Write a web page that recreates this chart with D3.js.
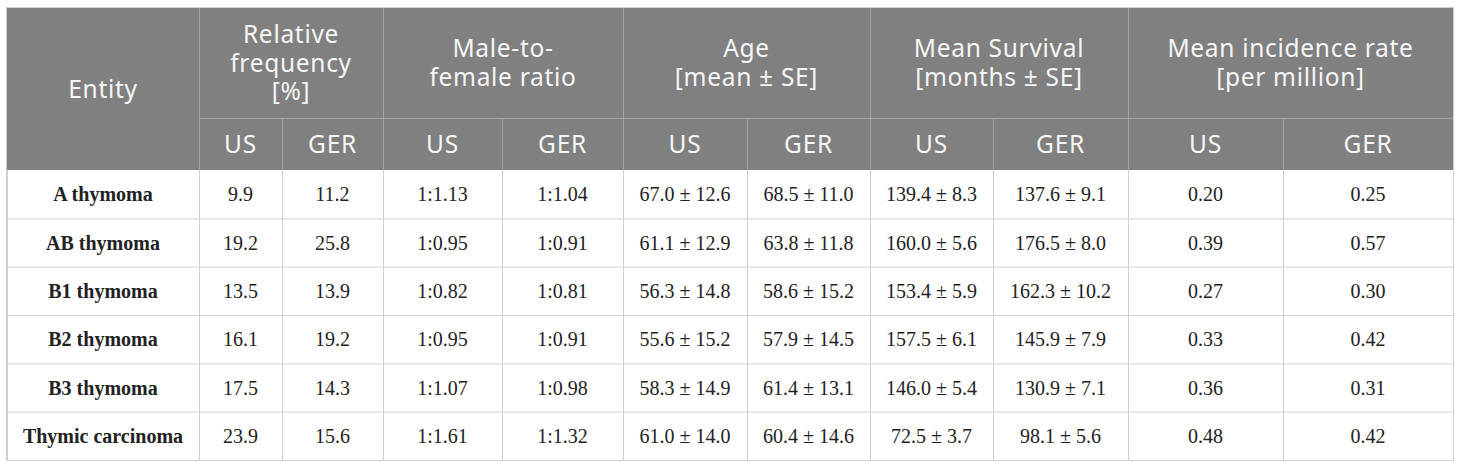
<!DOCTYPE html>
<html>
<head>
<meta charset="utf-8">
<script src="https://cdn.jsdelivr.net/npm/d3@7"></script>
<style>
  body { margin: 0; background: #fff; }
  .head { font-family: "Noto Sans", "Open Sans", sans-serif; fill: #f6f6f6; font-size: 24.5px; letter-spacing: 0.7px; }
  .cell { font-family: "Liberation Serif", "Times New Roman", serif; fill: #222; font-size: 20px; }
  .entity { font-weight: bold; }
</style>
</head>
<body>
<script>
// table values
var entities = ['A thymoma', 'AB thymoma', 'B1 thymoma', 'B2 thymoma', 'B3 thymoma', 'Thymic carcinoma'];
var freqUS   = ['9.9', '19.2', '13.5', '16.1', '17.5', '23.9'];
var freqGER  = ['11.2', '25.8', '13.9', '19.2', '14.3', '15.6'];
var ratioUS  = ['1:1.13', '1:0.95', '1:0.82', '1:0.95', '1:1.07', '1:1.61'];
var ratioGER = ['1:1.04', '1:0.91', '1:0.81', '1:0.91', '1:0.98', '1:1.32'];
var ageUS    = ['67.0 ± 12.6', '61.1 ± 12.9', '56.3 ± 14.8', '55.6 ± 15.2', '58.3 ± 14.9', '61.0 ± 14.0'];
var ageGER   = ['68.5 ± 11.0', '63.8 ± 11.8', '58.6 ± 15.2', '57.9 ± 14.5', '61.4 ± 13.1', '60.4 ± 14.6'];
var survUS   = ['139.4 ± 8.3', '160.0 ± 5.6', '153.4 ± 5.9', '157.5 ± 6.1', '146.0 ± 5.4', '72.5 ± 3.7'];
var survGER  = ['137.6 ± 9.1', '176.5 ± 8.0', '162.3 ± 10.2', '145.9 ± 7.9', '130.9 ± 7.1', '98.1 ± 5.6'];
var incUS    = ['0.20', '0.39', '0.27', '0.33', '0.36', '0.48'];
var incGER   = ['0.25', '0.57', '0.30', '0.42', '0.31', '0.42'];

var groups   = [['Relative', 'frequency', '[%]'], ['Male-to-', 'female ratio'], ['Age', '[mean ± SE]'],
                ['Mean Survival', '[months ± SE]'], ['Mean incidence rate', '[per million]']];
var subHeads = ['US', 'GER'];

var columns = [freqUS, freqGER, ratioUS, ratioGER, ageUS, ageGER, survUS, survGER, incUS, incGER];

///////////////////////////////////////////////////////////////////////////////
// layout
var W = 1460, H = 468;
var edges = [7, 199, 282, 383, 502, 623, 747, 870, 993, 1128, 1283, 1453];
var top0 = 8, groupBottom = 118, headBottom = 170, bottom = 460;

var svg = d3.select('body').append('svg')
            .attr('width', W)
            .attr('height', H);

var y = d3.scaleBand()
          .domain(entities)
          .range([headBottom, bottom]);

function mid(i){ return (edges[i] + edges[i + 1]) / 2; }

// header background
svg.append('rect')
   .attr('x', edges[0]).attr('y', top0)
   .attr('width', edges[11] - edges[0]).attr('height', headBottom - top0)
   .attr('fill', '#808080');

// header lines
var hl = svg.append('g').attr('stroke', '#a3a3a3').attr('stroke-width', 1);
hl.append('line').attr('x1', edges[1]).attr('x2', edges[11])
  .attr('y1', groupBottom + 0.5).attr('y2', groupBottom + 0.5);
edges.slice(1, 11).forEach(function(x, i){
  var odd = (i % 2 === 1);           // US|GER divider inside a group
  hl.append('line')
    .attr('x1', x + 0.5).attr('x2', x + 0.5)
    .attr('y1', odd ? groupBottom : top0).attr('y2', headBottom);
});

// header text
svg.append('text').attr('class', 'head')
   .attr('x', mid(0)).attr('y', (top0 + headBottom) / 2)
   .attr('text-anchor', 'middle').attr('dy', '0.35em')
   .text('Entity');

var lh = 28.5;
groups.forEach(function(lines, g){
  var cx = (edges[1 + 2 * g] + edges[3 + 2 * g]) / 2;
  var cy = (top0 + groupBottom) / 2 - (lines.length - 1) * lh / 2;
  lines.forEach(function(s, k){
    svg.append('text').attr('class', 'head').attr('text-anchor', 'middle')
       .attr('x', cx).attr('y', cy + k * lh).attr('dy', '0.35em').text(s);
  });
});

d3.range(10).forEach(function(c){
  svg.append('text').attr('class', 'head')
     .attr('x', mid(c + 1)).attr('y', (groupBottom + headBottom) / 2)
     .attr('text-anchor', 'middle').attr('dy', '0.35em')
     .text(subHeads[c % 2]);
});

// body grid
var grid = svg.append('g').attr('stroke', '#cfcfcf').attr('stroke-width', 1).attr('fill', 'none');
entities.forEach(function(e){
  grid.append('line').attr('x1', edges[0]).attr('x2', edges[11])
      .attr('y1', y(e) + y.bandwidth() + 0.5).attr('y2', y(e) + y.bandwidth() + 0.5);
});
edges.forEach(function(x){
  grid.append('line').attr('x1', x + 0.5).attr('x2', x + 0.5)
      .attr('y1', headBottom).attr('y2', bottom);
});
grid.append('rect').attr('x', edges[0] - 0.5).attr('y', top0 - 0.5)
    .attr('width', edges[11] - edges[0] + 1).attr('height', bottom - top0 + 1);

// body text
var rows = svg.selectAll('g.row').data(entities).enter().append('g')
              .attr('class', 'row')
              .attr('transform', function(d){ return 'translate(0,' + (y(d) + y.bandwidth() / 2) + ')'; });

rows.append('text').attr('class', 'cell entity')
    .attr('x', mid(0)).attr('dy', '0.35em').attr('text-anchor', 'middle')
    .text(function(d){ return d; });

columns.forEach(function(col, c){
  rows.append('text').attr('class', 'cell')
      .attr('x', mid(c + 1)).attr('dy', '0.35em').attr('text-anchor', 'middle')
      .text(function(d, i){ return col[i]; });
});
</script>
</body>
</html>
